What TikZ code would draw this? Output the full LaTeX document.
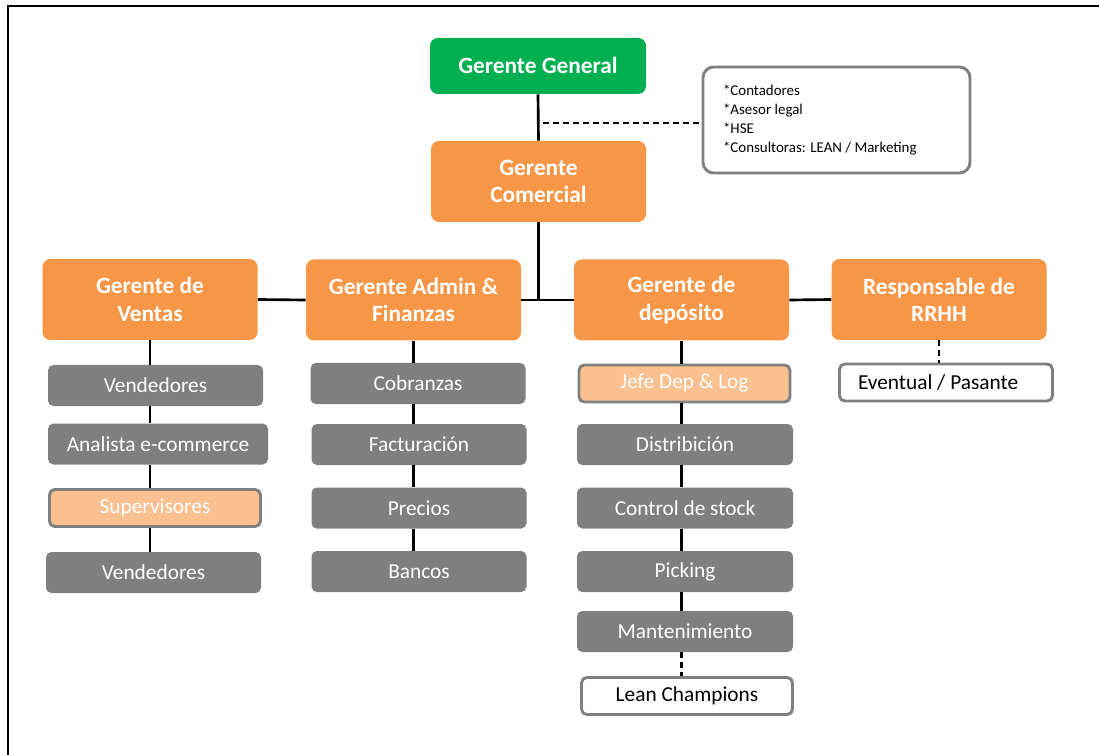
\documentclass[tikz,border=0pt]{standalone}
\usepackage{fontspec}
\setmainfont{Carlito}
\definecolor{ggreen}{HTML}{00B050}
\definecolor{gorange}{HTML}{F79646}
\definecolor{ggray}{HTML}{7F7F7F}
\definecolor{gpeach}{HTML}{FAC090}
\definecolor{gborder}{HTML}{808080}
\begin{document}
\begin{tikzpicture}[x=0.75pt,y=-0.75pt,
  mgr/.style={rectangle, rounded corners=6pt, fill=gorange, text=white,
    font=\bfseries\fontsize{17.5}{20.5}\selectfont, align=center,
    minimum width=215*0.75pt, minimum height=81*0.75pt, inner sep=0pt},
  sub/.style={rectangle, rounded corners=4pt, fill=ggray, text=white,
    font=\fontsize{16}{19}\selectfont, align=center,
    minimum width=215*0.75pt, minimum height=41*0.75pt, inner sep=0pt},
  peach/.style={sub, fill=gpeach, draw=gborder, line width=2.2pt},
  wbox/.style={sub, fill=white, text=black, draw=gborder, line width=2.2pt},
  conn/.style={line width=2pt, black},
  dconn/.style={line width=2pt, black, dash pattern=on 4.5pt off 3pt}
]
\useasboundingbox (0,0) rectangle (1099,755);
% frame
\coordinate (fa) at (7.5,755);
\coordinate (fb) at (7.5,6);
\coordinate (fc) at (1099,6);
\draw[line width=1.5pt] (fa) -- (fb) -- (fc);

% top
\node[mgr, fill=ggreen, minimum height=56*0.75pt, minimum width=216*0.75pt] (gg) at (538,66) {\raisebox{1.5pt}{Gerente General}};
\node[mgr] (gc) at (538.5,181.5) {Gerente\\Comercial};
\node[rectangle, rounded corners=8pt, draw=gborder, line width=2.2pt, fill=white,
  minimum width=267*0.75pt, minimum height=106*0.75pt, inner sep=0pt,
  font=\fontsize{11.2}{14.25}\selectfont] (info) at (836.5,120)
  {\makebox[170.25pt][l]{\begin{tabular}{@{}l@{}}{*}Contadores\\{*}Asesor legal\\{*}HSE\\{*}Consultoras: LEAN / Marketing\end{tabular}}};

% managers
\node[mgr] (ven) at (150,299.5) {Gerente de\\Ventas};
\node[mgr] (adm) at (413.5,300) {Gerente Admin \&\\Finanzas};
\node[mgr] (dep) at (681.5,300) {Gerente de\\depósito};
\node[mgr] (rrhh) at (939,299.5) {Responsable de\\RRHH};

% ventas column
\node[sub] (v1) at (155.5,385.5) {Vendedores};
\node[sub, minimum width=220*0.75pt] (v2) at (158,444) {Analista e-commerce};
\node[peach, minimum width=211*0.75pt, minimum height=37*0.75pt] (v3) at (155,508) {Supervisores};
\node[sub] (v4) at (153.5,572.5) {Vendedores};

% admin column
\node[sub] (a1) at (418,383.5) {Cobranzas};
\node[sub] (a2) at (419,444.5) {Facturación};
\node[sub] (a3) at (419,508) {Precios};
\node[sub] (a4) at (419,571.5) {Bancos};

% deposito column
\node[peach, minimum width=211*0.75pt, minimum height=37*0.75pt] (d1) at (684.5,383.5) {Jefe Dep \& Log};
\node[sub, minimum width=216*0.75pt] (d2) at (685,444.5) {Distribición};
\node[sub, minimum width=216*0.75pt] (d3) at (685,508) {Control de stock};
\node[sub, minimum width=216*0.75pt] (d4) at (685,571.5) {Picking};
\node[sub, minimum width=216*0.75pt] (d5) at (685,631.5) {Mantenimiento};
\node[wbox, minimum width=211*0.75pt, minimum height=37*0.75pt] (d6) at (687,696) {Lean Champions};

% rrhh
\node[wbox, minimum width=213*0.75pt, minimum height=37*0.75pt] (r1) at (946,382.5)
  {\makebox[132pt][l]{Eventual / Pasante}};

% connectors top
\draw[conn] (gg.south) -- (gc.north);
\coordinate (dj) at (543,123);
\draw[dconn] (dj) -- (dj -| info.west);
\draw[conn] (gc.south) -- (gc.south |- adm.east);
\draw[conn] (adm.east) -- (dep.west);
\draw[conn] (ven.east) -- (adm.west);
\draw[conn] (dep.east) -- (rrhh.west);

% ventas lines
\draw[conn] (ven.south) -- (ven.south |- v1.north);
\draw[conn] (ven.south |- v1.south) -- (ven.south |- v2.north);
\draw[conn] (ven.south |- v2.south) -- (ven.south |- v3.north);
\draw[conn] (ven.south |- v3.south) -- (ven.south |- v4.north);
% admin lines
\draw[conn] (adm.south) -- (adm.south |- a1.north);
\draw[conn] (adm.south |- a1.south) -- (adm.south |- a2.north);
\draw[conn] (adm.south |- a2.south) -- (adm.south |- a3.north);
\draw[conn] (adm.south |- a3.south) -- (adm.south |- a4.north);
% deposito lines
\draw[conn] (dep.south) -- (dep.south |- d1.north);
\draw[conn] (dep.south |- d1.south) -- (dep.south |- d2.north);
\draw[conn] (dep.south |- d2.south) -- (dep.south |- d3.north);
\draw[conn] (dep.south |- d3.south) -- (dep.south |- d4.north);
\draw[conn] (dep.south |- d4.south) -- (dep.south |- d5.north);
\draw[dconn] (dep.south |- d5.south) -- (dep.south |- d6.north);
% rrhh line
\draw[dconn] (rrhh.south) -- (rrhh.south |- r1.north);
\end{tikzpicture}
\end{document}
